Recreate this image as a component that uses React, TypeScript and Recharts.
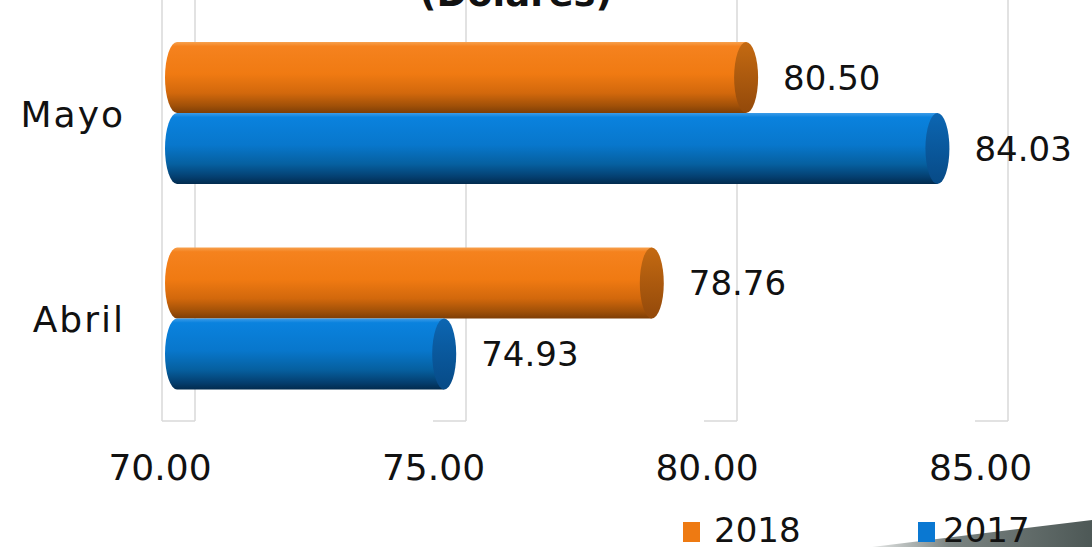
import React from 'react';
import { BarChart, Bar, XAxis, YAxis, CartesianGrid, LabelList, Legend } from 'recharts';

const categories = ['Mayo', 'Abril'];
const values2018 = [80.5, 78.76];
const values2017 = [84.03, 74.93];
const xTicks = [70, 75, 80, 85];
const seriesNames = ['2018', '2017'];
const title = '(Dólares)';

const data = categories.map((c, i) => ({ mes: c, s2018: values2018[i], s2017: values2017[i] }));

const FONT = '"DejaVu Sans", sans-serif';
const ORANGE = '#EE7A12';
const BLUE = '#0A78D2';

const makeCylinder = (bodyId: string, capId: string) => (props: any) => {
  const { x, y, width, height } = props;
  if (width == null || height == null) return null;
  const rx = 12;
  const ry = height / 2;
  const cy = y + ry;
  const x2 = x + width;
  const body = `M ${x} ${y} L ${x2} ${y} L ${x2} ${y + height} L ${x} ${y + height} A ${rx} ${ry} 0 0 1 ${x} ${y} Z`;
  return (
    <g>
      <path d={body} fill={`url(#${bodyId})`} />
      <ellipse cx={x2} cy={cy} rx={rx} ry={ry} fill={`url(#${capId})`} />
    </g>
  );
};

const ValueLabel = (props: any) => {
  const { x, y, width, height, value } = props;
  return (
    <text x={x + width + 37} y={y + height / 2} dy={12} fontFamily={FONT} fontSize={34} fill="#111">
      {Number(value).toFixed(2)}
    </text>
  );
};

const XTick = (props: any) => {
  const { x, y, payload } = props;
  const v = payload.value;
  const dx = -17 + (v - 70) * 0.5;
  return (
    <text x={x + dx} y={y + 59} textAnchor="middle" fontFamily={FONT} fontSize={36} fill="#111">
      {Number(v).toFixed(2)}
    </text>
  );
};

const YTick = (props: any) => {
  const { x, y, payload } = props;
  return (
    <text x={x - 52} y={y + 14} textAnchor="end" fontFamily={FONT} fontSize={36} letterSpacing={2} fill="#111">
      {payload.value}
    </text>
  );
};

const GridLine = (props: any) => {
  const { x1, y2, index } = props;
  const back = x1 + 18;
  const front = x1 - 15;
  return (
    <g key={`gl-${index}`}>
      <line x1={back} y1={0} x2={back} y2={y2} stroke="#d9d9d9" strokeWidth={1.5} />
      <line x1={front} y1={y2} x2={back} y2={y2} stroke="#d9d9d9" strokeWidth={1.5} />
      {index === 0 ? <line x1={front} y1={0} x2={front} y2={y2} stroke="#d9d9d9" strokeWidth={1.5} /> : null}
    </g>
  );
};

const LegendContent = (props: any) => {
  const payload = props.payload || [];
  const ordered = seriesNames
    .map((n) => payload.find((p: any) => p.value === n))
    .filter(Boolean);
  const pos = [
    { rx: 11, tx: 42 },
    { rx: 246, tx: 271 },
  ];
  return (
    <svg width={420} height={42} style={{ display: 'block', overflow: 'visible' }}>
      {ordered.map((p: any, i: number) => (
        <g key={p.value}>
          <rect x={pos[i].rx} y={17} width={17} height={20} fill={p.color} />
          <text x={pos[i].tx} y={37} fontFamily={FONT} fontSize={34} fill="#111">
            {p.value}
          </text>
        </g>
      ))}
    </svg>
  );
};

export default function App() {
  return (
    <div style={{ position: 'absolute', left: 0, top: 0, width: 1092, height: 547, background: '#fff', overflow: 'hidden' }}>
      <BarChart
        width={1092}
        height={547}
        data={data}
        layout="vertical"
        margin={{ top: 10, right: 102, bottom: 66, left: 0 }}
        barGap={0}
        barSize={71}
      >
        <defs>
          <linearGradient id="bodyOrange" x1="0" y1="0" x2="0" y2="1">
            <stop offset="0" stopColor="#F7A14E" />
            <stop offset="0.06" stopColor="#F5821E" />
            <stop offset="0.45" stopColor="#F07A12" />
            <stop offset="0.72" stopColor="#D2680C" />
            <stop offset="0.9" stopColor="#A05008" />
            <stop offset="1" stopColor="#7E3E06" />
          </linearGradient>
          <linearGradient id="capOrange" x1="0" y1="0" x2="0" y2="1">
            <stop offset="0" stopColor="#C46A12" />
            <stop offset="1" stopColor="#93490A" />
          </linearGradient>
          <linearGradient id="bodyBlue" x1="0" y1="0" x2="0" y2="1">
            <stop offset="0" stopColor="#3C9CE8" />
            <stop offset="0.06" stopColor="#0A82DE" />
            <stop offset="0.45" stopColor="#0877CC" />
            <stop offset="0.72" stopColor="#0660A0" />
            <stop offset="0.9" stopColor="#043F70" />
            <stop offset="1" stopColor="#022B4E" />
          </linearGradient>
          <linearGradient id="capBlue" x1="0" y1="0" x2="0" y2="1">
            <stop offset="0" stopColor="#0C66B2" />
            <stop offset="1" stopColor="#074A86" />
          </linearGradient>
          <linearGradient id="cornerGray" x1="0" y1="0" x2="1" y2="0">
            <stop offset="0" stopColor="#e4e6e5" />
            <stop offset="0.35" stopColor="#7b8482" />
            <stop offset="1" stopColor="#4d5856" />
          </linearGradient>
        </defs>
        <CartesianGrid horizontal={false} vertical={GridLine} />
        <XAxis
          type="number"
          domain={[70, 85]}
          ticks={xTicks}
          interval={0}
          axisLine={false}
          tickLine={false}
          tickSize={0}
          tickMargin={0}
          height={60}
          tick={XTick}
        />
        <YAxis
          type="category"
          dataKey="mes"
          axisLine={false}
          tickLine={false}
          tickSize={0}
          tickMargin={0}
          width={177}
          tick={YTick}
        />
        <Legend
          layout="horizontal"
          verticalAlign="middle"
          align="center"
          content={LegendContent}
          wrapperStyle={{ position: 'absolute', left: 672, top: 505, width: 420, height: 42 }}
        />
        <Bar dataKey="s2018" name={seriesNames[0]} fill={ORANGE} isAnimationActive={false} shape={makeCylinder('bodyOrange', 'capOrange')}>
          <LabelList dataKey="s2018" content={ValueLabel} />
        </Bar>
        <Bar dataKey="s2017" name={seriesNames[1]} fill={BLUE} isAnimationActive={false} shape={makeCylinder('bodyBlue', 'capBlue')}>
          <LabelList dataKey="s2017" content={ValueLabel} />
        </Bar>
        <polygon points="872,547 1092,520 1092,547" fill="url(#cornerGray)" />
        <text x={516} y={6} textAnchor="middle" fontFamily={FONT} fontSize={37} fontWeight="bold" fill="#111">
          {title}
        </text>
      </BarChart>
    </div>
  );
}
